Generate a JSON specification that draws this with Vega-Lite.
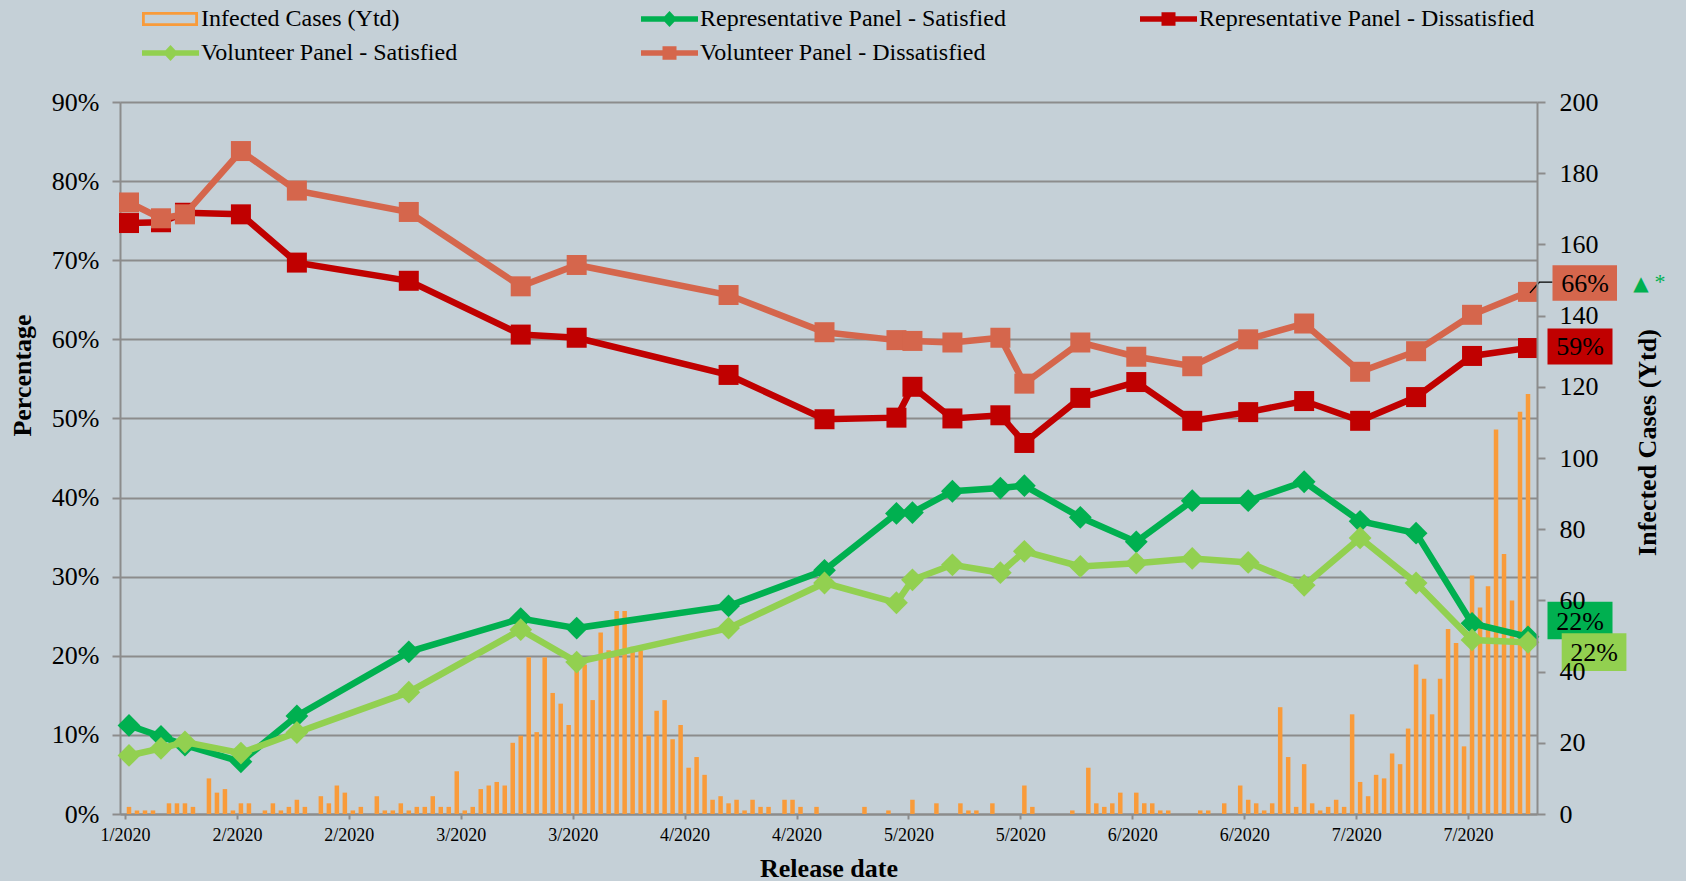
{
  "$schema": "https://vega.github.io/schema/vega-lite/v6.json",
  "width": 1417,
  "height": 712,
  "autosize": {"type": "none"},
  "padding": {"left": 120, "top": 102, "right": 149, "bottom": 67},
  "background": "#C5D0D7",
  "config": {"view": {"stroke": null}, "font": "Liberation Serif"},
  "datasets": {
    "survey": [
      {"date": "2020-01-30", "Representative Panel - Satisfied": 11.2, "Volunteer Panel - Satisfied": 7.4, "Representative Panel - Dissatisfied": 74.7, "Volunteer Panel - Dissatisfied": 77.3},
      {"date": "2020-02-03", "Representative Panel - Satisfied": 9.8, "Volunteer Panel - Satisfied": 8.3, "Representative Panel - Dissatisfied": 74.8, "Volunteer Panel - Dissatisfied": 75.3},
      {"date": "2020-02-06", "Representative Panel - Satisfied": 8.7, "Volunteer Panel - Satisfied": 9.1, "Representative Panel - Dissatisfied": 76.0, "Volunteer Panel - Dissatisfied": 75.8},
      {"date": "2020-02-13", "Representative Panel - Satisfied": 6.6, "Volunteer Panel - Satisfied": 7.7, "Representative Panel - Dissatisfied": 75.8, "Volunteer Panel - Dissatisfied": 83.8},
      {"date": "2020-02-20", "Representative Panel - Satisfied": 12.4, "Volunteer Panel - Satisfied": 10.3, "Representative Panel - Dissatisfied": 69.7, "Volunteer Panel - Dissatisfied": 78.8},
      {"date": "2020-03-05", "Representative Panel - Satisfied": 20.5, "Volunteer Panel - Satisfied": 15.4, "Representative Panel - Dissatisfied": 67.4, "Volunteer Panel - Dissatisfied": 76.1},
      {"date": "2020-03-19", "Representative Panel - Satisfied": 24.7, "Volunteer Panel - Satisfied": 23.3, "Representative Panel - Dissatisfied": 60.6, "Volunteer Panel - Dissatisfied": 66.7},
      {"date": "2020-03-26", "Representative Panel - Satisfied": 23.5, "Volunteer Panel - Satisfied": 19.2, "Representative Panel - Dissatisfied": 60.2, "Volunteer Panel - Dissatisfied": 69.4},
      {"date": "2020-04-14", "Representative Panel - Satisfied": 26.3, "Volunteer Panel - Satisfied": 23.5, "Representative Panel - Dissatisfied": 55.5, "Volunteer Panel - Dissatisfied": 65.6},
      {"date": "2020-04-26", "Representative Panel - Satisfied": 30.8, "Volunteer Panel - Satisfied": 29.2, "Representative Panel - Dissatisfied": 49.9, "Volunteer Panel - Dissatisfied": 60.9},
      {"date": "2020-05-05", "Representative Panel - Satisfied": 38.0, "Volunteer Panel - Satisfied": 26.7, "Representative Panel - Dissatisfied": 50.1, "Volunteer Panel - Dissatisfied": 59.9},
      {"date": "2020-05-07", "Representative Panel - Satisfied": 38.1, "Volunteer Panel - Satisfied": 29.6, "Representative Panel - Dissatisfied": 54.0, "Volunteer Panel - Dissatisfied": 59.8},
      {"date": "2020-05-12", "Representative Panel - Satisfied": 40.8, "Volunteer Panel - Satisfied": 31.5, "Representative Panel - Dissatisfied": 50.0, "Volunteer Panel - Dissatisfied": 59.6},
      {"date": "2020-05-18", "Representative Panel - Satisfied": 41.2, "Volunteer Panel - Satisfied": 30.5, "Representative Panel - Dissatisfied": 50.4, "Volunteer Panel - Dissatisfied": 60.2},
      {"date": "2020-05-21", "Representative Panel - Satisfied": 41.5, "Volunteer Panel - Satisfied": 33.2, "Representative Panel - Dissatisfied": 46.9, "Volunteer Panel - Dissatisfied": 54.4},
      {"date": "2020-05-28", "Representative Panel - Satisfied": 37.5, "Volunteer Panel - Satisfied": 31.3, "Representative Panel - Dissatisfied": 52.6, "Volunteer Panel - Dissatisfied": 59.6},
      {"date": "2020-06-04", "Representative Panel - Satisfied": 34.4, "Volunteer Panel - Satisfied": 31.7, "Representative Panel - Dissatisfied": 54.6, "Volunteer Panel - Dissatisfied": 57.8},
      {"date": "2020-06-11", "Representative Panel - Satisfied": 39.6, "Volunteer Panel - Satisfied": 32.3, "Representative Panel - Dissatisfied": 49.7, "Volunteer Panel - Dissatisfied": 56.6},
      {"date": "2020-06-18", "Representative Panel - Satisfied": 39.6, "Volunteer Panel - Satisfied": 31.8, "Representative Panel - Dissatisfied": 50.8, "Volunteer Panel - Dissatisfied": 60.0},
      {"date": "2020-06-25", "Representative Panel - Satisfied": 42.0, "Volunteer Panel - Satisfied": 28.9, "Representative Panel - Dissatisfied": 52.2, "Volunteer Panel - Dissatisfied": 62.0},
      {"date": "2020-07-02", "Representative Panel - Satisfied": 37.0, "Volunteer Panel - Satisfied": 34.9, "Representative Panel - Dissatisfied": 49.7, "Volunteer Panel - Dissatisfied": 55.9},
      {"date": "2020-07-09", "Representative Panel - Satisfied": 35.5, "Volunteer Panel - Satisfied": 29.2, "Representative Panel - Dissatisfied": 52.7, "Volunteer Panel - Dissatisfied": 58.5},
      {"date": "2020-07-16", "Representative Panel - Satisfied": 24.1, "Volunteer Panel - Satisfied": 22.0, "Representative Panel - Dissatisfied": 57.9, "Volunteer Panel - Dissatisfied": 63.1},
      {"date": "2020-07-23", "Representative Panel - Satisfied": 22.4, "Volunteer Panel - Satisfied": 21.7, "Representative Panel - Dissatisfied": 58.9, "Volunteer Panel - Dissatisfied": 66.0}
    ],
    "cases": [
      {"date": "2020-01-30", "cases": 2}, {"date": "2020-01-31", "cases": 1},
      {"date": "2020-02-01", "cases": 1}, {"date": "2020-02-02", "cases": 1}, {"date": "2020-02-03", "cases": 0}, {"date": "2020-02-04", "cases": 3}, {"date": "2020-02-05", "cases": 3}, {"date": "2020-02-06", "cases": 3}, {"date": "2020-02-07", "cases": 2}, {"date": "2020-02-08", "cases": 0}, {"date": "2020-02-09", "cases": 10}, {"date": "2020-02-10", "cases": 6}, {"date": "2020-02-11", "cases": 7}, {"date": "2020-02-12", "cases": 1}, {"date": "2020-02-13", "cases": 3}, {"date": "2020-02-14", "cases": 3}, {"date": "2020-02-15", "cases": 0}, {"date": "2020-02-16", "cases": 1}, {"date": "2020-02-17", "cases": 3}, {"date": "2020-02-18", "cases": 1}, {"date": "2020-02-19", "cases": 2}, {"date": "2020-02-20", "cases": 4}, {"date": "2020-02-21", "cases": 2}, {"date": "2020-02-22", "cases": 0}, {"date": "2020-02-23", "cases": 5}, {"date": "2020-02-24", "cases": 3}, {"date": "2020-02-25", "cases": 8}, {"date": "2020-02-26", "cases": 6}, {"date": "2020-02-27", "cases": 1}, {"date": "2020-02-28", "cases": 2}, {"date": "2020-02-29", "cases": 0},
      {"date": "2020-03-01", "cases": 5}, {"date": "2020-03-02", "cases": 1}, {"date": "2020-03-03", "cases": 1}, {"date": "2020-03-04", "cases": 3}, {"date": "2020-03-05", "cases": 1}, {"date": "2020-03-06", "cases": 2}, {"date": "2020-03-07", "cases": 2}, {"date": "2020-03-08", "cases": 5}, {"date": "2020-03-09", "cases": 2}, {"date": "2020-03-10", "cases": 2}, {"date": "2020-03-11", "cases": 12}, {"date": "2020-03-12", "cases": 1}, {"date": "2020-03-13", "cases": 2}, {"date": "2020-03-14", "cases": 7}, {"date": "2020-03-15", "cases": 8}, {"date": "2020-03-16", "cases": 9}, {"date": "2020-03-17", "cases": 8}, {"date": "2020-03-18", "cases": 20}, {"date": "2020-03-19", "cases": 22}, {"date": "2020-03-20", "cases": 44}, {"date": "2020-03-21", "cases": 23}, {"date": "2020-03-22", "cases": 44}, {"date": "2020-03-23", "cases": 34}, {"date": "2020-03-24", "cases": 31}, {"date": "2020-03-25", "cases": 25}, {"date": "2020-03-26", "cases": 44}, {"date": "2020-03-27", "cases": 42}, {"date": "2020-03-28", "cases": 32}, {"date": "2020-03-29", "cases": 51}, {"date": "2020-03-30", "cases": 46}, {"date": "2020-03-31", "cases": 57},
      {"date": "2020-04-01", "cases": 57}, {"date": "2020-04-02", "cases": 47}, {"date": "2020-04-03", "cases": 46}, {"date": "2020-04-04", "cases": 22}, {"date": "2020-04-05", "cases": 29}, {"date": "2020-04-06", "cases": 32}, {"date": "2020-04-07", "cases": 21}, {"date": "2020-04-08", "cases": 25}, {"date": "2020-04-09", "cases": 13}, {"date": "2020-04-10", "cases": 16}, {"date": "2020-04-11", "cases": 11}, {"date": "2020-04-12", "cases": 4}, {"date": "2020-04-13", "cases": 5}, {"date": "2020-04-14", "cases": 3}, {"date": "2020-04-15", "cases": 4}, {"date": "2020-04-16", "cases": 1}, {"date": "2020-04-17", "cases": 4}, {"date": "2020-04-18", "cases": 2}, {"date": "2020-04-19", "cases": 2}, {"date": "2020-04-20", "cases": 0}, {"date": "2020-04-21", "cases": 4}, {"date": "2020-04-22", "cases": 4}, {"date": "2020-04-23", "cases": 2}, {"date": "2020-04-24", "cases": 0}, {"date": "2020-04-25", "cases": 2}, {"date": "2020-04-26", "cases": 0}, {"date": "2020-04-27", "cases": 0}, {"date": "2020-04-28", "cases": 0}, {"date": "2020-04-29", "cases": 0}, {"date": "2020-04-30", "cases": 0},
      {"date": "2020-05-01", "cases": 2}, {"date": "2020-05-02", "cases": 0}, {"date": "2020-05-03", "cases": 0}, {"date": "2020-05-04", "cases": 1}, {"date": "2020-05-05", "cases": 0}, {"date": "2020-05-06", "cases": 0}, {"date": "2020-05-07", "cases": 4}, {"date": "2020-05-08", "cases": 0}, {"date": "2020-05-09", "cases": 0}, {"date": "2020-05-10", "cases": 3}, {"date": "2020-05-11", "cases": 0}, {"date": "2020-05-12", "cases": 0}, {"date": "2020-05-13", "cases": 3}, {"date": "2020-05-14", "cases": 1}, {"date": "2020-05-15", "cases": 1}, {"date": "2020-05-16", "cases": 0}, {"date": "2020-05-17", "cases": 3}, {"date": "2020-05-18", "cases": 0}, {"date": "2020-05-19", "cases": 0}, {"date": "2020-05-20", "cases": 0}, {"date": "2020-05-21", "cases": 8}, {"date": "2020-05-22", "cases": 2}, {"date": "2020-05-23", "cases": 0}, {"date": "2020-05-24", "cases": 0}, {"date": "2020-05-25", "cases": 0}, {"date": "2020-05-26", "cases": 0}, {"date": "2020-05-27", "cases": 1}, {"date": "2020-05-28", "cases": 0}, {"date": "2020-05-29", "cases": 13}, {"date": "2020-05-30", "cases": 3}, {"date": "2020-05-31", "cases": 2},
      {"date": "2020-06-01", "cases": 3}, {"date": "2020-06-02", "cases": 6}, {"date": "2020-06-03", "cases": 0}, {"date": "2020-06-04", "cases": 6}, {"date": "2020-06-05", "cases": 3}, {"date": "2020-06-06", "cases": 3}, {"date": "2020-06-07", "cases": 1}, {"date": "2020-06-08", "cases": 1}, {"date": "2020-06-09", "cases": 0}, {"date": "2020-06-10", "cases": 0}, {"date": "2020-06-11", "cases": 0}, {"date": "2020-06-12", "cases": 1}, {"date": "2020-06-13", "cases": 1}, {"date": "2020-06-14", "cases": 0}, {"date": "2020-06-15", "cases": 3}, {"date": "2020-06-16", "cases": 0}, {"date": "2020-06-17", "cases": 8}, {"date": "2020-06-18", "cases": 4}, {"date": "2020-06-19", "cases": 3}, {"date": "2020-06-20", "cases": 1}, {"date": "2020-06-21", "cases": 3}, {"date": "2020-06-22", "cases": 30}, {"date": "2020-06-23", "cases": 16}, {"date": "2020-06-24", "cases": 2}, {"date": "2020-06-25", "cases": 14}, {"date": "2020-06-26", "cases": 3}, {"date": "2020-06-27", "cases": 1}, {"date": "2020-06-28", "cases": 2}, {"date": "2020-06-29", "cases": 4}, {"date": "2020-06-30", "cases": 2},
      {"date": "2020-07-01", "cases": 28}, {"date": "2020-07-02", "cases": 9}, {"date": "2020-07-03", "cases": 5}, {"date": "2020-07-04", "cases": 11}, {"date": "2020-07-05", "cases": 10}, {"date": "2020-07-06", "cases": 17}, {"date": "2020-07-07", "cases": 14}, {"date": "2020-07-08", "cases": 24}, {"date": "2020-07-09", "cases": 42}, {"date": "2020-07-10", "cases": 38}, {"date": "2020-07-11", "cases": 28}, {"date": "2020-07-12", "cases": 38}, {"date": "2020-07-13", "cases": 52}, {"date": "2020-07-14", "cases": 48}, {"date": "2020-07-15", "cases": 19}, {"date": "2020-07-16", "cases": 67}, {"date": "2020-07-17", "cases": 58}, {"date": "2020-07-18", "cases": 64}, {"date": "2020-07-19", "cases": 108}, {"date": "2020-07-20", "cases": 73}, {"date": "2020-07-21", "cases": 60}, {"date": "2020-07-22", "cases": 113}, {"date": "2020-07-23", "cases": 118}
    ]
  },
  "encoding": {
    "x": {
      "field": "date",
      "type": "temporal",
      "title": "Release date",
      "scale": {
        "type": "utc",
        "domain": [
          {"year": 2020, "month": 1, "date": 29, "hours": 12, "utc": true},
          {"year": 2020, "month": 7, "date": 23, "hours": 12, "utc": true}
        ]
      },
      "axis": {
        "values": [
          {"year": 2020, "month": 1, "date": 29, "hours": 12, "utc": true},
          {"year": 2020, "month": 2, "date": 12, "hours": 12, "utc": true},
          {"year": 2020, "month": 2, "date": 26, "hours": 12, "utc": true},
          {"year": 2020, "month": 3, "date": 11, "hours": 12, "utc": true},
          {"year": 2020, "month": 3, "date": 25, "hours": 12, "utc": true},
          {"year": 2020, "month": 4, "date": 8, "hours": 12, "utc": true},
          {"year": 2020, "month": 4, "date": 22, "hours": 12, "utc": true},
          {"year": 2020, "month": 5, "date": 6, "hours": 12, "utc": true},
          {"year": 2020, "month": 5, "date": 20, "hours": 12, "utc": true},
          {"year": 2020, "month": 6, "date": 3, "hours": 12, "utc": true},
          {"year": 2020, "month": 6, "date": 17, "hours": 12, "utc": true},
          {"year": 2020, "month": 7, "date": 1, "hours": 12, "utc": true},
          {"year": 2020, "month": 7, "date": 15, "hours": 12, "utc": true}
        ],
        "format": "%-m/%Y",
        "labelFont": "Liberation Serif",
        "labelFontSize": 18,
        "labelColor": "#000000",
        "labelAngle": 0,
        "labelFlush": false,
        "labelOverlap": false,
        "labelPadding": 7,
        "tickSize": 5,
        "tickWidth": 2,
        "tickColor": "#8C8C8C",
        "domainColor": "#8C8C8C",
        "domainWidth": 2,
        "grid": false,
        "titleFont": "Liberation Serif",
        "titleFontSize": 26,
        "titleFontWeight": "bold",
        "titleColor": "#000000",
        "titleBaseline": "alphabetic",
        "titleY": 62
      }
    }
  },
  "layer": [
    {
      "data": {"name": "cases"},
      "mark": {"type": "bar", "color": "#F99B3A", "width": 4.5},
      "encoding": {
        "y": {
          "field": "cases",
          "type": "quantitative",
          "scale": {"domain": [0, 200], "nice": false},
          "axis": {
            "orient": "right",
            "values": [0, 20, 40, 60, 80, 100, 120, 140, 160, 180, 200],
            "labelFont": "Liberation Serif",
            "labelFontSize": 26,
            "labelColor": "#000000",
            "labelPadding": 14,
            "tickSize": 8,
            "tickWidth": 2,
            "tickColor": "#8C8C8C",
            "domainColor": "#8C8C8C",
            "domainWidth": 2,
            "grid": false,
            "zindex": 1,
            "title": "Infected Cases (Ytd)",
            "titleFont": "Liberation Serif",
            "titleFontSize": 26,
            "titleFontWeight": "bold",
            "titleColor": "#000000",
            "titleAngle": -90,
            "titleBaseline": "alphabetic",
            "titleAlign": "center",
            "titleX": 118,
            "titleY": 340
          }
        }
      }
    },
    {
      "data": {"name": "survey"},
      "transform": [
        {"fold": ["Representative Panel - Satisfied", "Representative Panel - Dissatisfied", "Volunteer Panel - Satisfied", "Volunteer Panel - Dissatisfied"], "as": ["series", "value"]}
      ],
      "encoding": {
        "y": {
          "field": "value",
          "type": "quantitative",
          "scale": {"domain": [0, 90], "nice": false},
          "axis": {
            "orient": "left",
            "values": [0, 10, 20, 30, 40, 50, 60, 70, 80, 90],
            "labelExpr": "datum.value + '%'",
            "labelFont": "Liberation Serif",
            "labelFontSize": 26,
            "labelColor": "#000000",
            "labelPadding": 13,
            "tickSize": 8,
            "tickWidth": 2,
            "tickColor": "#8C8C8C",
            "domainColor": "#8C8C8C",
            "domainWidth": 2,
            "grid": true,
            "gridColor": "#8C8C8C",
            "gridWidth": 2,
            "gridOpacity": 1,
            "title": "Percentage",
            "titleFont": "Liberation Serif",
            "titleFontSize": 26,
            "titleFontWeight": "bold",
            "titleColor": "#000000",
            "titleAngle": -90,
            "titleBaseline": "alphabetic",
            "titleAlign": "center",
            "titleX": -90,
            "titleY": 273
          }
        }
      },
      "layer": [
        {
          "transform": [{"filter": "datum.series == 'Representative Panel - Satisfied'"}],
          "mark": {"type": "line", "color": "#00B050", "strokeWidth": 6.5, "point": {"shape": "diamond", "size": 520, "filled": true, "color": "#00B050", "opacity": 1}}
        },
        {
          "transform": [{"filter": "datum.series == 'Representative Panel - Dissatisfied'"}],
          "mark": {"type": "line", "color": "#C00000", "strokeWidth": 6.5, "point": {"shape": "square", "size": 400, "filled": true, "color": "#C00000", "opacity": 1}}
        },
        {
          "transform": [{"filter": "datum.series == 'Volunteer Panel - Satisfied'"}],
          "mark": {"type": "line", "color": "#92D050", "strokeWidth": 6.5, "point": {"shape": "diamond", "size": 520, "filled": true, "color": "#92D050", "opacity": 1}}
        },
        {
          "transform": [{"filter": "datum.series == 'Volunteer Panel - Dissatisfied'"}],
          "mark": {"type": "line", "color": "#D5664C", "strokeWidth": 6.5, "point": {"shape": "square", "size": 400, "filled": true, "color": "#D5664C", "opacity": 1}}
        },
        {
          "transform": [{"filter": "datum.series == 'Volunteer Panel - Dissatisfied' && time(datum.date) == utc(2020, 6, 23)"}],
          "mark": {"type": "point", "shape": "M0.2,0.1L1.13,-0.97L2.45,-0.97", "size": 400, "filled": false, "color": "#000000", "strokeWidth": 1.4, "opacity": 1}
        },
        {
          "transform": [{"filter": "datum.series == 'Volunteer Panel - Dissatisfied' && time(datum.date) == utc(2020, 6, 23)"}],
          "mark": {"type": "point", "shape": "M2.45,-2.65H8.9V0.9H2.45Z", "size": 400, "filled": true, "color": "#D5664C", "opacity": 1, "strokeWidth": 0}
        },
        {
          "transform": [{"filter": "datum.series == 'Volunteer Panel - Dissatisfied' && time(datum.date) == utc(2020, 6, 23)"}, {"calculate": "format(datum.value, '.0f') + '%'", "as": "label"}],
          "mark": {"type": "text", "dx": 57, "dy": -8, "font": "Liberation Serif", "fontSize": 26, "color": "#000000", "align": "center", "baseline": "middle"},
          "encoding": {"text": {"field": "label"}}
        },
        {
          "transform": [{"filter": "datum.series == 'Volunteer Panel - Dissatisfied' && time(datum.date) == utc(2020, 6, 23)"}],
          "mark": {"type": "text", "text": "▲", "dx": 113, "dy": -8, "font": "DejaVu Sans", "fontSize": 20, "color": "#00B050", "align": "center", "baseline": "middle"}
        },
        {
          "transform": [{"filter": "datum.series == 'Volunteer Panel - Dissatisfied' && time(datum.date) == utc(2020, 6, 23)"}],
          "mark": {"type": "text", "text": "*", "dx": 132, "dy": -10, "font": "Liberation Serif", "fontSize": 22, "color": "#00B050", "align": "center", "baseline": "middle"}
        },
        {
          "transform": [{"filter": "datum.series == 'Representative Panel - Dissatisfied' && time(datum.date) == utc(2020, 6, 23)"}],
          "mark": {"type": "point", "shape": "M1.95,-1.95H8.45V1.65H1.95Z", "size": 400, "filled": true, "color": "#C00000", "opacity": 1, "strokeWidth": 0}
        },
        {
          "transform": [{"filter": "datum.series == 'Representative Panel - Dissatisfied' && time(datum.date) == utc(2020, 6, 23)"}, {"calculate": "format(datum.value, '.0f') + '%'", "as": "label"}],
          "mark": {"type": "text", "dx": 52, "dy": -1, "font": "Liberation Serif", "fontSize": 26, "color": "#000000", "align": "center", "baseline": "middle"},
          "encoding": {"text": {"field": "label"}}
        },
        {
          "transform": [{"filter": "datum.series == 'Representative Panel - Satisfied' && time(datum.date) == utc(2020, 6, 23)"}],
          "mark": {"type": "point", "shape": "M1.95,-3.5H8.45V0.25H1.95Z", "size": 400, "filled": true, "color": "#00B050", "opacity": 1, "strokeWidth": 0}
        },
        {
          "transform": [{"filter": "datum.series == 'Representative Panel - Satisfied' && time(datum.date) == utc(2020, 6, 23)"}, {"calculate": "format(datum.value, '.0f') + '%'", "as": "label"}],
          "mark": {"type": "text", "dx": 52, "dy": -15, "font": "Liberation Serif", "fontSize": 26, "color": "#000000", "align": "center", "baseline": "middle"},
          "encoding": {"text": {"field": "label"}}
        },
        {
          "transform": [{"filter": "datum.series == 'Volunteer Panel - Satisfied' && time(datum.date) == utc(2020, 6, 23)"}],
          "mark": {"type": "point", "shape": "M3.37,-0.9H9.84V2.87H3.37Z", "size": 400, "filled": true, "color": "#92D050", "opacity": 1, "strokeWidth": 0}
        },
        {
          "transform": [{"filter": "datum.series == 'Volunteer Panel - Satisfied' && time(datum.date) == utc(2020, 6, 23)"}, {"calculate": "format(datum.value, '.0f') + '%'", "as": "label"}],
          "mark": {"type": "text", "dx": 66, "dy": 11, "font": "Liberation Serif", "fontSize": 26, "color": "#000000", "align": "center", "baseline": "middle"},
          "encoding": {"text": {"field": "label"}}
        },
        {
          "transform": [{"filter": "false"}],
          "mark": {"type": "point", "filled": true, "opacity": 1},
          "encoding": {
            "color": {
              "field": "series",
              "type": "nominal",
              "scale": {
                "domain": ["Infected Cases (Ytd)", "Representative Panel - Satisfied", "Representative Panel - Dissatisfied", "Volunteer Panel - Satisfied", "Volunteer Panel - Dissatisfied"],
                "range": ["#F99B3A", "#00B050", "#C00000", "#92D050", "#D5664C"]
              },
              "legend": {
                "title": null,
                "orient": "none",
                "legendX": 20,
                "legendY": -95,
                "direction": "horizontal",
                "columns": 3,
                "gridAlign": "all",
                "columnPadding": 102,
                "rowPadding": 10,
                "padding": 0,
                "symbolSize": 400,
                "symbolStrokeWidth": 0,
                "symbolOpacity": 1,
                "symbolOffset": 0,
                "labelOffset": 37,
                "labelFont": "Liberation Serif",
                "labelFontSize": 24,
                "labelColor": "#000000",
                "labelLimit": 600
              }
            },
            "shape": {
              "field": "series",
              "type": "nominal",
              "scale": {
                "domain": ["Infected Cases (Ytd)", "Representative Panel - Satisfied", "Representative Panel - Dissatisfied", "Volunteer Panel - Satisfied", "Volunteer Panel - Dissatisfied"],
                "range": [
                  "M-1,-0.7H4.6V0.7H-1Z M-0.72,-0.42V0.42H4.32V-0.42Z",
                  "M-1,-0.28H4.7V0.28H-1Z M1.85,-0.8L2.6,0L1.85,0.8L1.1,0Z",
                  "M-1,-0.28H4.7V0.28H-1Z M1.15,-0.68H2.55V0.68H1.15Z",
                  "M-1,-0.28H4.7V0.28H-1Z M1.85,-0.8L2.6,0L1.85,0.8L1.1,0Z",
                  "M-1,-0.28H4.7V0.28H-1Z M1.15,-0.68H2.55V0.68H1.15Z"
                ]
              }
            }
          }
        }
      ]
    }
  ],
  "resolve": {"scale": {"y": "independent"}}
}
